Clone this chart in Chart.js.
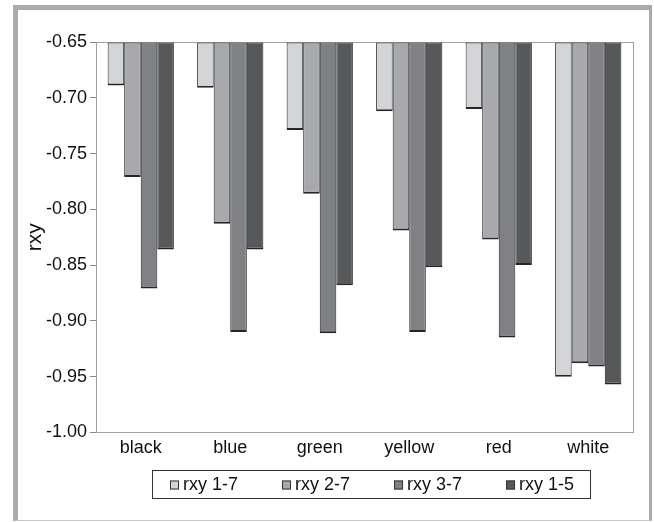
<!DOCTYPE html>
<html>
<head>
<meta charset="utf-8">
<script src="https://cdn.jsdelivr.net/npm/chart.js@4.4.1/dist/chart.umd.min.js"></script>
<style>
  html, body { margin: 0; padding: 0; background: #fff; }
  #wrap { position: relative; width: 654px; height: 522px; }
  #frame {
    position: absolute; left: 13px; top: 5px; width: 631px; height: 510px;
    border-left: 5px solid #ababae; border-top: 5px solid #ababae;
    border-right: 3px solid #ababae; border-bottom: 1px solid #c4c4c4;
  }
  #chart { position: absolute; left: 0; top: 0; }
</style>
</head>
<body>
<div id="wrap">
  <div id="frame"></div>
  <canvas id="chart" width="654" height="522"></canvas>
</div>
<script>
// colour categories on the x axis
const categories = ['black', 'blue', 'green', 'yellow', 'red', 'white'];

// correlation values per series (bars hang down from the -0.65 line)
const rxy17 = [-0.689, -0.691, -0.729, -0.712, -0.710, -0.950];
const rxy27 = [-0.771, -0.813, -0.786, -0.819, -0.827, -0.938];
const rxy37 = [-0.871, -0.910, -0.911, -0.910, -0.915, -0.941];
const rxy15 = [-0.836, -0.836, -0.868, -0.852, -0.850, -0.957];

const seriesNames = ['rxy 1-7', 'rxy 2-7', 'rxy 3-7', 'rxy 1-5'];
const seriesColors = ['#d3d4d6', '#a8a9ac', '#808184', '#57585a'];

const yMin = -1.00;
const yMax = -0.65;
const yStep = 0.05;

const FONT = "'Liberation Sans', Arial, sans-serif";

// grey box round the plot area
const plotBorder = {
  id: 'plotBorder',
  beforeDatasetsDraw(chart) {
    const a = chart.chartArea;
    const ctx = chart.ctx;
    ctx.save();
    ctx.strokeStyle = '#a0a0a0';
    ctx.lineWidth = 1;
    ctx.strokeRect(Math.round(a.left) + 0.5, Math.round(a.top) + 0.5,
      Math.round(a.right - a.left), Math.round(a.bottom - a.top));
    ctx.restore();
  }
};

// legend in a framed box under the axis (built from the datasets)
const boxedLegend = {
  id: 'boxedLegend',
  afterDraw(chart) {
    const ctx = chart.ctx;
    const sets = chart.data.datasets;
    const sq = 9, gapText = 4, gapItem = 44;
    const boxTop = 470, boxH = 28;
    const cy = boxTop + boxH / 2;
    ctx.save();
    ctx.font = '18px ' + FONT;
    const widths = sets.map(d => sq + gapText + ctx.measureText(d.label).width);
    const total = widths.reduce((s, w) => s + w, 0) + gapItem * (sets.length - 1);
    const mid = (chart.chartArea.left + chart.chartArea.right) / 2 + 8;
    let x = Math.round(mid - total / 2);
    ctx.strokeStyle = '#333';
    ctx.lineWidth = 1;
    ctx.strokeRect(Math.round(x - 18) + 0.5, boxTop + 0.5, Math.round(total + 34), boxH);
    ctx.textBaseline = 'middle';
    sets.forEach((d, i) => {
      ctx.fillStyle = d.backgroundColor;
      ctx.fillRect(x, cy - sq / 2 + 1, sq, sq);
      ctx.strokeStyle = '#333';
      ctx.strokeRect(x + 0.5, cy - sq / 2 + 1.5, sq - 1, sq - 1);
      ctx.fillStyle = '#111';
      ctx.fillText(d.label, x + sq + gapText, cy + 1);
      x += widths[i] + gapItem;
    });
    ctx.restore();
  }
};

const allSeries = [rxy17, rxy27, rxy37, rxy15];

new Chart(document.getElementById('chart'), {
  type: 'bar',
  data: {
    labels: categories,
    datasets: allSeries.map((vals, i) => ({
      label: seriesNames[i],
      data: vals,
      base: yMax,
      backgroundColor: seriesColors[i],
      borderColor: '#262626',
      borderWidth: { top: 1, left: 1, right: 1, bottom: 2 },
      borderSkipped: false,
      categoryPercentage: 0.74,
      barPercentage: 1.0
    }))
  },
  options: {
    responsive: false,
    animation: false,
    layout: { padding: { top: 42, right: 21, bottom: 58, left: 0 } },
    plugins: {
      tooltip: { enabled: false },
      legend: { display: false }
    },
    scales: {
      x: {
        grid: { display: false, drawTicks: false },
        border: { display: true, color: '#a0a0a0' },
        ticks: { color: '#111', font: { family: FONT, size: 18 }, padding: 5 }
      },
      y: {
        min: yMin,
        max: yMax,
        afterFit(scale) { scale.width = 96; },
        grid: { drawOnChartArea: false, drawTicks: true, tickLength: 6, color: '#888' },
        border: { display: true, color: '#a0a0a0' },
        ticks: {
          stepSize: yStep,
          color: '#111',
          font: { family: FONT, size: 18 },
          padding: 3,
          callback: v => v.toFixed(2)
        },
        title: {
          display: true,
          text: 'rxy',
          color: '#111',
          font: { family: FONT, size: 21 },
          padding: { top: 23, bottom: 0 }
        }
      }
    }
  },
  plugins: [plotBorder, boxedLegend]
});
</script>
</body>
</html>
